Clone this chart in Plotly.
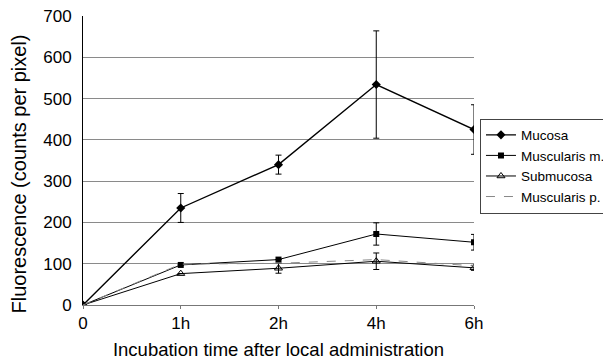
import plotly.graph_objects as go

x_labels = ["0", "1h", "2h", "4h", "6h"]

mucosa = [0, 235, 340, 534, 425]
mucosa_err = [0, 35, 23, 130, 60]

musc_m = [0, 97, 110, 172, 152]
musc_m_err = [0, 0, 0, 27, 19]

submucosa = [0, 76, 89, 106, 90]
submucosa_err = [0, 0, 12, 20, 6]

musc_p = [0, 99, 101, 110, 95]

fig = go.Figure()

fig.add_trace(go.Scatter(
    x=x_labels, y=mucosa, name="Mucosa", mode="lines+markers",
    line=dict(color="black", width=1.4),
    marker=dict(symbol="diamond", size=7, color="black"),
    error_y=dict(type="data", array=mucosa_err, color="black", thickness=1, width=3),
))
fig.add_trace(go.Scatter(
    x=x_labels, y=musc_m, name="Muscularis m.", mode="lines+markers",
    line=dict(color="black", width=1),
    marker=dict(symbol="square", size=6, color="black"),
    error_y=dict(type="data", array=musc_m_err, color="black", thickness=1, width=3),
))
fig.add_trace(go.Scatter(
    x=x_labels, y=submucosa, name="Submucosa", mode="lines+markers",
    line=dict(color="black", width=1),
    marker=dict(symbol="triangle-up-open", size=7, color="black", line=dict(width=1)),
    error_y=dict(type="data", array=submucosa_err, color="black", thickness=1, width=3),
))
fig.add_trace(go.Scatter(
    x=x_labels, y=musc_p, name="Muscularis p.", mode="lines",
    line=dict(color="#888888", width=1, dash="dash"),
))

fig.update_layout(
    width=603, height=352,
    margin=dict(l=75, r=137, t=8, b=55, autoexpand=False),
    paper_bgcolor="white", plot_bgcolor="white",
    font=dict(family="Liberation Sans, Arial, sans-serif", color="black", size=17),
    showlegend=True,
    legend=dict(
        x=1.0153, y=0.645, xanchor="left", yanchor="top",
        bordercolor="#444444", borderwidth=1, bgcolor="white",
        font=dict(size=13.5), tracegroupgap=0, itemwidth=30,
    ),
    xaxis=dict(
        type="category", range=[0, 4], automargin=False,
        showgrid=False, zeroline=False,
        showline=True, linecolor="#777777", linewidth=1,
        ticks="outside", ticklen=3, tickcolor="#777777",
        title=dict(text="Incubation time after local administration", font=dict(size=18.5), standoff=11),
        tickfont=dict(size=17),
    ),
    yaxis=dict(
        range=[0, 700], dtick=100, automargin=False,
        showgrid=True, gridcolor="#8a8a8a", gridwidth=1,
        zeroline=False,
        showline=True, linecolor="black", linewidth=1,
        ticks="", ticklabelstandoff=7, ticklabeloverflow="allow",
        tickfont=dict(size=17),
    ),
    annotations=[dict(
        text="Fluorescence (counts per pixel)", textangle=-90,
        xref="paper", yref="paper", x=-0.1637, y=0.455,
        xanchor="center", yanchor="middle", showarrow=False,
        font=dict(size=20),
    )],
)

fig.write_html("out.html")
